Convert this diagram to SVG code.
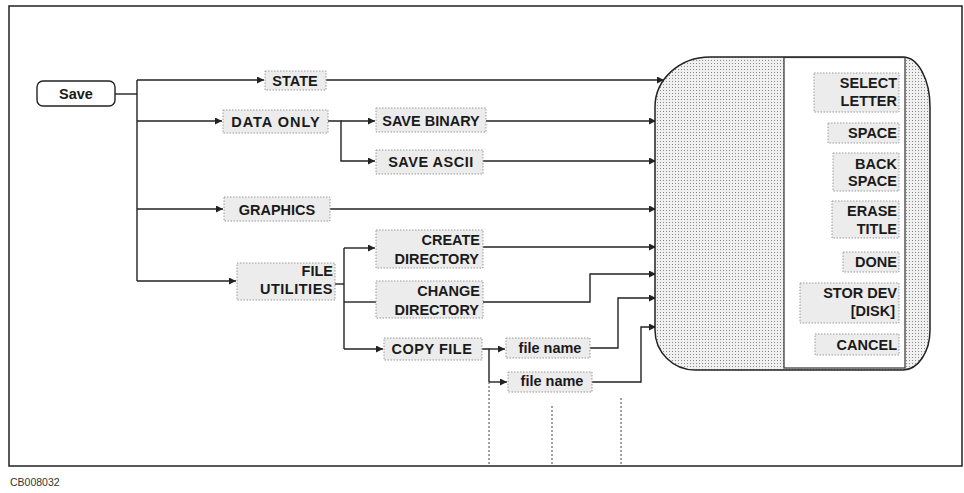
<svg xmlns="http://www.w3.org/2000/svg" width="964" height="493" viewBox="0 0 964 493">
<style>
.t{font-family:"Liberation Sans",Arial,sans-serif;font-size:14.5px;font-weight:bold;fill:#1a1a1a}
.m{text-anchor:middle}
.e{text-anchor:end}
.lb{fill:#ececec;stroke:#9a9a9a;stroke-width:1;stroke-dasharray:1.5 1.5}
.c{fill:none;stroke:#222;stroke-width:1.4}
.d{fill:none;stroke:#444;stroke-width:1;stroke-dasharray:2 2}
</style>
<defs>
<marker id="ah" viewBox="0 0 10 10" refX="10" refY="5" markerWidth="9" markerHeight="7" markerUnits="userSpaceOnUse" orient="auto">
<path d="M0 0 L10 5 L0 10 z" fill="#222"/>
</marker>
<pattern id="stip" width="3" height="3" patternUnits="userSpaceOnUse">
<rect width="3" height="3" fill="#f0f0f0"/>
<rect width="1" height="1" fill="#8a8a8a"/>
</pattern>
</defs>
<rect width="964" height="493" fill="#ffffff"/>
<rect x="9" y="6" width="953" height="460" fill="none" stroke="#222" stroke-width="1.5"/>
<text x="10" y="486" style="font-family:'Liberation Sans',Arial,sans-serif;font-size:10.5px;fill:#333">CB008032</text>

<g id="connectors">
<path class="c" d="M115 94 H137"/>
<path class="c" d="M137 80 V281"/>
<path class="c" d="M137 80 H264" marker-end="url(#ah)"/>
<path class="c" d="M137 121 H222" marker-end="url(#ah)"/>
<path class="c" d="M137 209 H223" marker-end="url(#ah)"/>
<path class="c" d="M137 281 H236" marker-end="url(#ah)"/>
<path class="c" d="M326 80 H664" marker-end="url(#ah)"/>
<path class="c" d="M328 121 H341 V161 H375" marker-end="url(#ah)"/>
<path class="c" d="M341 121 H375" marker-end="url(#ah)"/>
<path class="c" d="M486 121 H656" marker-end="url(#ah)"/>
<path class="c" d="M483 161 H656" marker-end="url(#ah)"/>
<path class="c" d="M330 209 H656" marker-end="url(#ah)"/>
<path class="c" d="M335 284 H344"/>
<path class="c" d="M344 248 V349"/>
<path class="c" d="M344 248 H375" marker-end="url(#ah)"/>
<path class="c" d="M344 302 H376"/>
<path class="c" d="M344 349 H383" marker-end="url(#ah)"/>
<path class="c" d="M483 247 H656" marker-end="url(#ah)"/>
<path class="c" d="M483 302 H590 V274 H656" marker-end="url(#ah)"/>
<path class="c" d="M482 349 H489 V382"/>
<path class="c" d="M489 349 H505" marker-end="url(#ah)"/>
<path class="c" d="M489 382 H507" marker-end="url(#ah)"/>
<path class="c" d="M590 348 H618 V298 H656" marker-end="url(#ah)"/>
<path class="c" d="M592 382 H641 V327 H656" marker-end="url(#ah)"/>
<path class="d" d="M489 382 V465"/>
<path class="d" d="M552 406 V465"/>
<path class="d" d="M621 398 V465"/>
</g>

<g id="save">
<rect x="37" y="81" width="78" height="25" rx="6" fill="#fff" stroke="#222" stroke-width="1.4"/>
<text class="t m" x="76" y="99">Save</text>
</g>
<g id="state">
<rect class="lb" x="265" y="71" width="61" height="19"/>
<text class="t m" x="295" y="86">STATE</text>
</g>
<g id="data-only">
<rect class="lb" x="223" y="110" width="105" height="23"/>
<text class="t m" x="276" y="127" letter-spacing="1">DATA ONLY</text>
</g>
<g id="save-binary">
<rect class="lb" x="376" y="108" width="110" height="24"/>
<text class="t m" x="431" y="126">SAVE BINARY</text>
</g>
<g id="save-ascii">
<rect class="lb" x="376" y="150" width="107" height="24"/>
<text class="t m" x="431" y="167" letter-spacing="0.5">SAVE ASCII</text>
</g>
<g id="graphics">
<rect class="lb" x="224" y="197" width="106" height="24"/>
<text class="t m" x="277" y="215">GRAPHICS</text>
</g>
<g id="file-utilities">
<rect class="lb" x="237" y="263" width="98" height="37"/>
<text class="t e" x="333" y="276">FILE</text>
<text class="t e" x="333" y="294" letter-spacing="0.5">UTILITIES</text>
</g>
<g id="create-directory">
<rect class="lb" x="376" y="230" width="107" height="38"/>
<text class="t e" x="480" y="245">CREATE</text>
<text class="t e" x="479" y="264">DIRECTORY</text>
</g>
<g id="change-directory">
<rect class="lb" x="376" y="281" width="107" height="37"/>
<text class="t e" x="480" y="296">CHANGE</text>
<text class="t e" x="479" y="315">DIRECTORY</text>
</g>
<g id="copy-file">
<rect class="lb" x="384" y="338" width="98" height="22"/>
<text class="t m" x="432" y="354" letter-spacing="0.5">COPY FILE</text>
</g>
<g id="file-name-1">
<rect class="lb" x="506" y="338" width="84" height="20"/>
<text class="t m" x="550" y="353">file name</text>
</g>
<g id="file-name-2">
<rect class="lb" x="508" y="372" width="84" height="20"/>
<text class="t m" x="552" y="386">file name</text>
</g>

<g id="softkey-menu">
<path d="M710 57 H903 A27 50 0 0 1 930 107 V330 A27 40 0 0 1 903 370 H695 A40 40 0 0 1 655 330 V107 A55 50 0 0 1 710 57 Z" fill="url(#stip)" stroke="#222" stroke-width="1.5"/>
<rect x="784" y="57.5" width="121" height="310.5" fill="#fff" stroke="#333" stroke-width="1.2"/>
<rect class="lb" x="814" y="73" width="85" height="39"/>
<text class="t e" x="897" y="88">SELECT</text>
<text class="t e" x="897" y="106">LETTER</text>
<rect class="lb" x="828" y="123" width="71" height="20"/>
<text class="t e" x="897" y="138">SPACE</text>
<rect class="lb" x="833" y="153" width="66" height="38"/>
<text class="t e" x="897" y="169">BACK</text>
<text class="t e" x="897" y="186">SPACE</text>
<rect class="lb" x="832" y="201" width="67" height="37"/>
<text class="t e" x="897" y="216">ERASE</text>
<text class="t e" x="897" y="234">TITLE</text>
<rect class="lb" x="843" y="252" width="56" height="20"/>
<text class="t e" x="897" y="267">DONE</text>
<rect class="lb" x="800" y="283" width="99" height="40"/>
<text class="t e" x="897" y="298">STOR DEV</text>
<text class="t e" x="895" y="316">[DISK]</text>
<rect class="lb" x="815" y="334" width="84" height="21"/>
<text class="t e" x="897" y="350">CANCEL</text>
</g>
</svg>
